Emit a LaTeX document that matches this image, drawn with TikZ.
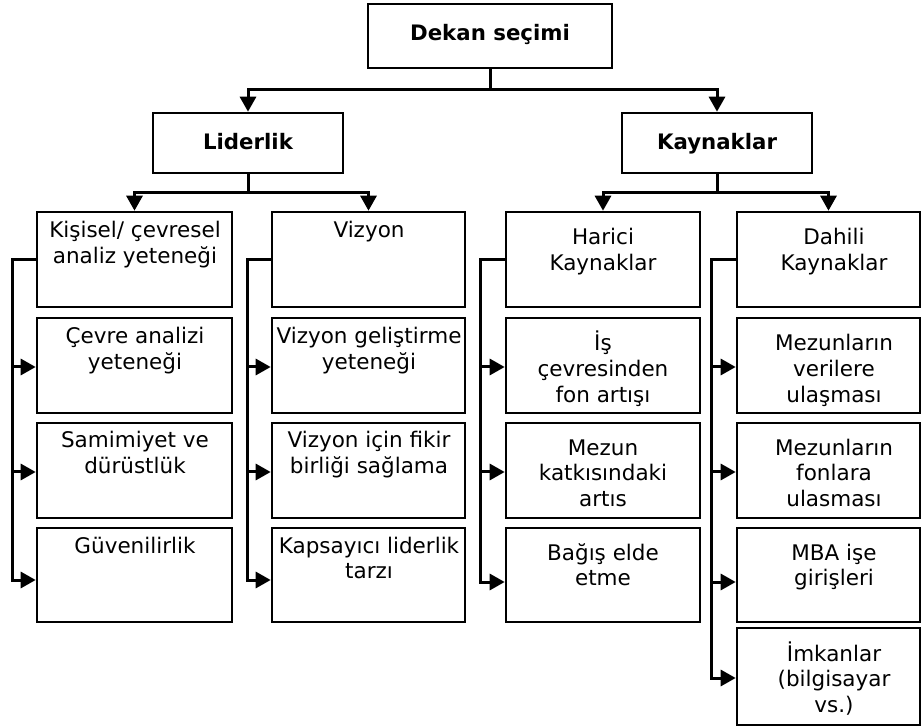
\documentclass[tikz,border=0pt]{standalone}
\usepackage{fontspec}
\setmainfont{DejaVu Sans}
\usetikzlibrary{arrows.meta}
\newcommand{\bx}[5]{\node[box, minimum width={#4-#2}, minimum height={#5-#3}] (#1) at ({(#2+#4)/2},{(#3+#5)/2}) {};}
% name, x, first baseline, number of lines, text (node baseline = last line)
\newcommand{\tx}[5]{\node[txt] (#1) at ({#2},{#3+(#4-1)*25.8}) {#5};}
\begin{document}
\begin{tikzpicture}[x=1pt,y=-1pt,
  box/.style={draw=black, line width=2.6pt, rectangle, inner sep=0pt, fill=white},
  txt/.style={font=\fontsize{21.5}{25.8}\selectfont, align=center, anchor=base, inner sep=0pt},
  btxt/.style={txt, font=\fontsize{21.3}{25.8}\selectfont\bfseries},
  conn/.style={line width=3pt},
  arr/.style={conn, -{Triangle[length=15pt,width=16pt]}}]
\useasboundingbox (0,0) rectangle (922,727);

% top level
\bx{dekan}{368}{4}{612}{68}
\node[btxt] (tdekan) at (490,41) {Dekan seçimi};
\bx{lider}{153}{113}{343}{173}
\node[btxt] (tlider) at (248,150) {Liderlik};
\bx{kayn}{622}{113}{812}{173}
\node[btxt] (tkayn) at (717,150) {Kaynaklar};

% column 1
\bx{a1}{37}{212}{232}{307}
\bx{a2}{37}{318}{232}{413}
\bx{a3}{37}{423}{232}{518}
\bx{a4}{37}{528}{232}{622}
% column 2
\bx{b1}{272}{212}{465}{307}
\bx{b2}{272}{318}{465}{413}
\bx{b3}{272}{423}{465}{518}
\bx{b4}{272}{528}{465}{622}
% column 3
\bx{c1}{506}{212}{700}{307}
\bx{c2}{506}{318}{700}{413}
\bx{c3}{506}{423}{700}{518}
\bx{c4}{506}{528}{700}{622}
% column 4
\bx{d1}{737}{212}{920}{307}
\bx{d2}{737}{318}{920}{413}
\bx{d3}{737}{423}{920}{518}
\bx{d4}{737}{528}{920}{622}
\bx{d5}{737}{628}{920}{725}

% texts
\tx{ta1}{135}{238}{2}{Kişisel/ çevresel\\analiz yeteneği}
\tx{ta2}{135}{344}{2}{Çevre analizi\\yeteneği}
\tx{ta3}{135}{448}{2}{Samimiyet ve\\dürüstlük}
\tx{ta4}{135}{553}{1}{Güvenilirlik}
\tx{tb1}{369}{238}{1}{Vizyon}
\tx{tb2}{369}{344}{2}{Vizyon geliştirme\\yeteneği}
\tx{tb3}{369}{448}{2}{Vizyon için fikir\\birliği sağlama}
\tx{tb4}{369}{553}{2}{Kapsayıcı liderlik\\tarzı}
\tx{tc1}{603}{245}{2}{Harici\\Kaynaklar}
\tx{tc2}{603}{351}{3}{İş\\çevresinden\\fon artışı}
\tx{tc3}{603}{455}{3}{Mezun\\katkısındaki\\artıs}
\tx{tc4}{603}{560}{2}{Bağış elde\\etme}
\tx{td1}{834}{245}{2}{Dahili\\Kaynaklar}
\tx{td2}{834}{351}{3}{Mezunların\\verilere\\ulaşması}
\tx{td3}{834}{455}{3}{Mezunların\\fonlara\\ulasması}
\tx{td4}{834}{560}{2}{MBA işe\\girişleri}
\tx{td5}{834}{661}{3}{İmkanlar\\(bilgisayar\\vs.)}

% connectors top
\coordinate (dbar) at (490,90);
\draw[conn] (dekan.south) -- (dbar);
\draw[arr] (dbar) -| (lider.north);
\draw[arr] (dbar) -| (kayn.north);
\coordinate (lbar) at (248,193);
\draw[conn] (lider.south) -- (lbar);
\draw[arr] (lbar) -| (a1.north);
\draw[arr] (lbar) -| (b1.north);
\coordinate (kbar) at (717,193);
\draw[conn] (kayn.south) -- (kbar);
\draw[arr] (kbar) -| (c1.north);
\draw[arr] (kbar) -| (d1.north);

% column trunks
\coordinate (ka) at (12,259.5);
\coordinate (ka2) at (12,367);
\coordinate (ka3) at (12,472);
\coordinate (ka4) at (12,580);
\draw[arr] (a1.west) -- (ka) -- (ka4) -- (ka4 -| a4.west);
\draw[arr] (ka2) -- (ka2 -| a2.west);
\draw[arr] (ka3) -- (ka3 -| a3.west);

\coordinate (kb) at (247,259.5);
\coordinate (kb2) at (247,367);
\coordinate (kb3) at (247,472);
\coordinate (kb4) at (247,580);
\draw[arr] (b1.west) -- (kb) -- (kb4) -- (kb4 -| b4.west);
\draw[arr] (kb2) -- (kb2 -| b2.west);
\draw[arr] (kb3) -- (kb3 -| b3.west);

\coordinate (kc) at (480,259.5);
\coordinate (kc2) at (480,367);
\coordinate (kc3) at (480,472);
\coordinate (kc4) at (480,582);
\draw[arr] (c1.west) -- (kc) -- (kc4) -- (kc4 -| c4.west);
\draw[arr] (kc2) -- (kc2 -| c2.west);
\draw[arr] (kc3) -- (kc3 -| c3.west);

\coordinate (kd) at (711,259.5);
\coordinate (kd2) at (711,367);
\coordinate (kd3) at (711,472);
\coordinate (kd4) at (711,582);
\coordinate (kd5) at (711,678);
\draw[arr] (d1.west) -- (kd) -- (kd5) -- (kd5 -| d5.west);
\draw[arr] (kd2) -- (kd2 -| d2.west);
\draw[arr] (kd3) -- (kd3 -| d3.west);
\draw[arr] (kd4) -- (kd4 -| d4.west);
\end{tikzpicture}
\end{document}
